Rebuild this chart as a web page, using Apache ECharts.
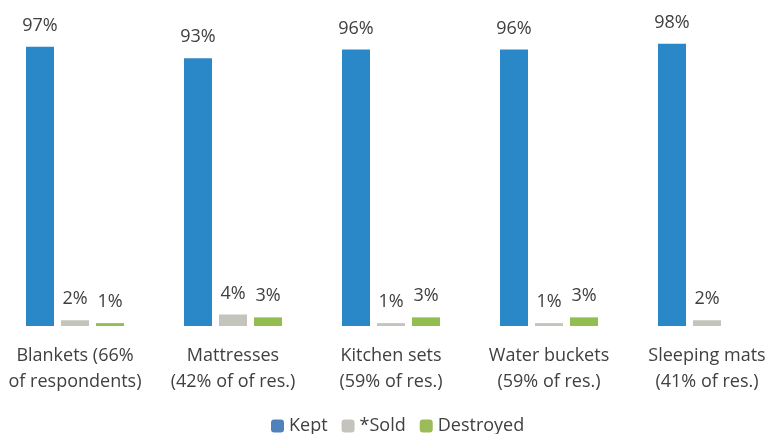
<!DOCTYPE html>
<html><head><meta charset="utf-8">
<script src="https://cdn.jsdelivr.net/npm/echarts@6/dist/echarts.min.js"></script>
<style>html,body{margin:0;padding:0;background:#fff;overflow:hidden}#c{width:790px;height:434px;margin-left:-4px}</style>
</head><body><div id="c"></div>
<script>
const categories = ['Blankets (66%\nof respondents)', 'Mattresses\n(42% of of res.)', 'Kitchen sets\n(59% of res.)', 'Water buckets\n(59% of res.)', 'Sleeping mats\n(41% of res.)'];
const kept = [97, 93, 96, 96, 98];
const sold = [2, 4, 1, 1, 2];
const destroyed = [1, 3, 3, 3, null];
const seriesNames = ['Kept', '*Sold', 'Destroyed'];

const font = '"Open Sans", sans-serif';
const txt = '#404040';
const chart = echarts.init(document.getElementById('c'));
const lbl = {show: true, position: 'top', distance: 12, formatter: '{c}%', color: txt, fontFamily: font, fontSize: 18};
chart.setOption({
  animation: false,
  grid: {left: 0, right: 0, top: 38, bottom: 108, containLabel: false},
  legend: {
    bottom: -6, left: 270, itemWidth: 13, itemHeight: 13, itemGap: 14,
    textStyle: {color: txt, fontFamily: font, fontSize: 18},
    data: [
      {name: seriesNames[0], itemStyle: {color: '#4f81bd'}},
      {name: seriesNames[1], itemStyle: {color: '#c4c4bc'}},
      {name: seriesNames[2], itemStyle: {color: '#9bbb59'}}
    ]
  },
  xAxis: {
    type: 'category', data: categories,
    axisLine: {show: false}, axisTick: {show: false},
    axisLabel: {color: txt, fontFamily: font, fontSize: 18, lineHeight: 26, margin: 17, interval: 0}
  },
  yAxis: {type: 'value', min: 0, max: 100, show: false, splitLine: {show: false}},
  series: [
    {name: seriesNames[0], type: 'bar', data: kept, barWidth: 28, barGap: '25%', itemStyle: {color: '#2a88c8'}, label: lbl},
    {name: seriesNames[1], type: 'bar', data: sold, barWidth: 28, barGap: '25%', itemStyle: {color: '#c4c4bc'}, label: lbl},
    {name: seriesNames[2], type: 'bar', data: destroyed, barWidth: 28, barGap: '25%', itemStyle: {color: '#92bd4f'}, label: lbl}
  ]
});
</script></body></html>
